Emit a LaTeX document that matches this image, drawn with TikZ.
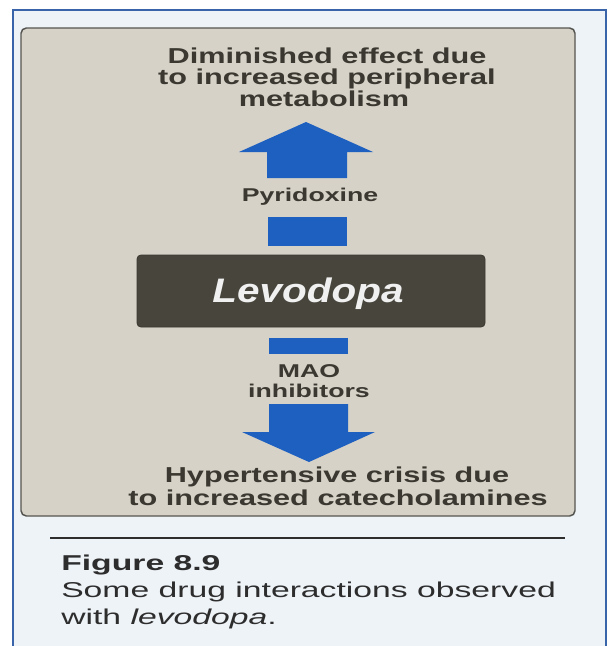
\documentclass[tikz,border=0pt]{standalone}
\usepackage{fontspec}
\setmainfont{Liberation Sans}
\newfontfamily\topf[FakeStretch=1.42]{Liberation Sans}
\newfontfamily\smf[FakeStretch=1.44]{Liberation Sans}
\newfontfamily\levf[FakeStretch=1.19]{Liberation Sans}
\newfontfamily\capf[FakeStretch=1.57]{Liberation Sans}
\definecolor{framebg}{RGB}{238,243,248}
\definecolor{frameblue}{RGB}{58,100,170}
\definecolor{panelfill}{RGB}{214,210,200}
\definecolor{paneldraw}{RGB}{85,85,80}
\definecolor{levfill}{RGB}{72,69,60}
\definecolor{arrowblue}{RGB}{30,96,192}
\definecolor{txtgray}{RGB}{58,56,48}
\definecolor{capgray}{RGB}{45,45,45}
\definecolor{levtxt}{RGB}{240,240,240}
\begin{document}
\begin{tikzpicture}[x=0.75pt,y=-0.75pt,
  lbl/.style={anchor=base, inner sep=0pt, text=txtgray, font=\topf\bfseries\fontsize{16.2}{18}\selectfont},
  smalllbl/.style={anchor=base, inner sep=0pt, text=txtgray, font=\smf\bfseries\fontsize{13.9}{16}\selectfont},
  caplbl/.style={anchor=base west, inner sep=0pt, text=capgray, font=\capf\fontsize{16.1}{20}\selectfont},
  bluefill/.style={fill=arrowblue},
  panelbox/.style={draw=paneldraw, fill=panelfill, line width=1.1pt, rounded corners=4pt},
  levbox/.style={draw=levfill!80!black, fill=levfill, line width=0.6pt, rounded corners=3pt}]
\useasboundingbox (0,0) rectangle (614,646);
\fill[white] (0,0) rectangle (614,646);
\fill[framebg] (13,10) rectangle (606,646);
\draw[frameblue, line width=1.5pt] (13,646) -- (13,10) -- (606,10) -- (606,646);
% panel
\draw[panelbox] (21,28) rectangle (575,516);
% top text
\node[lbl] (top1) at (327,63) {Diminished effect due};
\node[lbl] (top2) at (327,84.5) {to increased peripheral};
\node[lbl] (top3) at (324,106) {metabolism};
% up arrow
\fill[bluefill] (267,178) -- (267,152) -- (239,152) -- (306,122) -- (373,152) -- (347,152) -- (347,178) -- cycle;
\node[smalllbl] (pyr) at (310,201.5) {Pyridoxine};
\fill[bluefill] (268,217) rectangle (347,246);
% levodopa
\draw[levbox] (137,255) rectangle (485,327);
\node[anchor=base, inner sep=0pt, text=levtxt, font=\levf\bfseries\itshape\fontsize{25.5}{28}\selectfont] (levodopa) at (308,302) {Levodopa};
% lower
\fill[bluefill] (269,338) rectangle (348,354);
\node[smalllbl] (mao) at (309,377) {MAO};
\node[smalllbl] (inh) at (309,397) {inhibitors};
\fill[bluefill] (269,404) -- (348,404) -- (348,432) -- (375,432) -- (309,462) -- (242,432) -- (269,432) -- cycle;
\node[lbl] (bot1) at (337,482) {Hypertensive crisis due};
\node[lbl] (bot2) at (338,505) {to increased catecholamines};
% caption
\draw[capgray, line width=1.4pt] (50,538) -- (565,538);
\node[caplbl, font=\capf\bfseries\fontsize{16.1}{20}\selectfont] (fig) at (61,570) {Figure 8.9};
\node[caplbl] (cap1) at (61,597) {Some drug interactions observed};
\node[caplbl] (cap2) at (61,624) {with \textit{levodopa}.};
\end{tikzpicture}
\end{document}
